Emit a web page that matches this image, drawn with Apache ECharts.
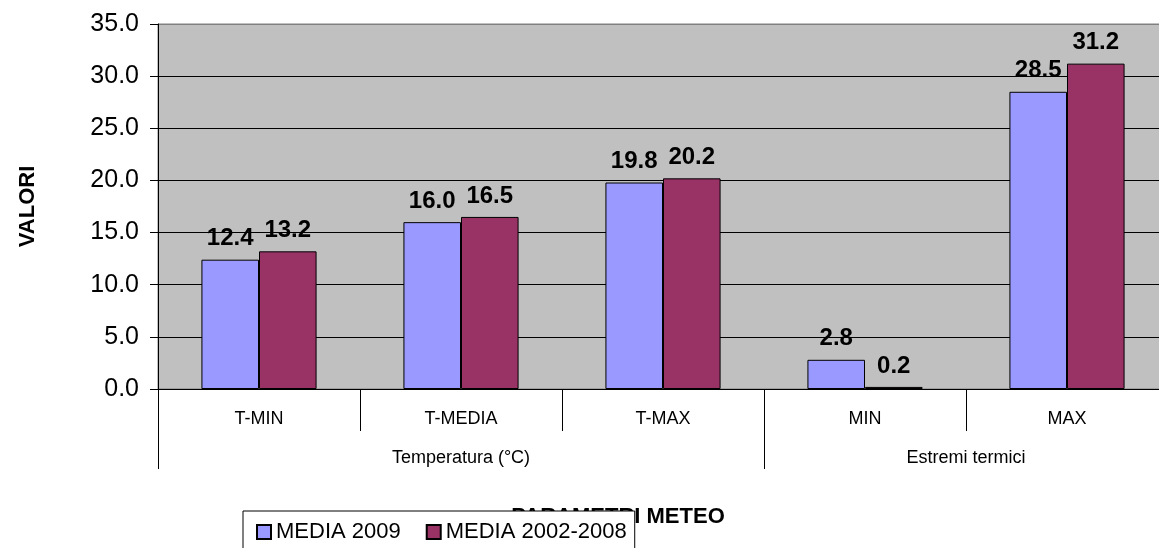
<!DOCTYPE html>
<html>
<head>
<meta charset="utf-8">
<script src="https://cdn.jsdelivr.net/npm/echarts@6/dist/echarts.min.js"></script>
<style>
html,body{margin:0;padding:0;background:#fff;}
#c{width:1159px;height:548px;}
</style>
</head>
<body>
<div id="c"></div>
<script>
const categories = ['T-MIN', 'T-MEDIA', 'T-MAX', 'MIN', 'MAX'];
const groupNames = ['Temperatura (°C)', 'Estremi termici'];
const groupCenters = [1.5, 4];      // in category units
const groupBounds = [0, 3, 5];
const media2009 = [12.4, 16.0, 19.8, 2.8, 28.5];
const media20022008 = [13.2, 16.5, 20.2, 0.2, 31.2];
const seriesNames = ['MEDIA 2009', 'MEDIA 2002-2008'];
const yTicks = [0, 5, 10, 15, 20, 25, 30, 35];

const FONT = '"Liberation Sans", Arial, sans-serif';
const chart = echarts.init(document.getElementById('c'), null, {renderer: 'canvas'});

const labelCfg = {
  show: true, position: 'top', distance: 9,
  fontFamily: FONT, fontWeight: 'bold', fontSize: 24, color: '#000',
  formatter: p => p.value.toFixed(1)
};

chart.setOption({
  animation: false,
  textStyle: {fontFamily: FONT},
  grid: {
    left: 158, top: 24, right: -9, bottom: 159,
    containLabel: false,
    outerBoundsMode: 'none',
    show: true, backgroundColor: '#C0C0C0', borderColor: '#808080', borderWidth: 1
  },
  legend: {
    data: seriesNames,
    left: 243, top: 511,
    padding: [10, 8, 30, 13],
    itemWidth: 14, itemHeight: 14, itemGap: 25,
    backgroundColor: '#fff', borderColor: '#000', borderWidth: 1,
    textStyle: {fontFamily: FONT, fontSize: 22, color: '#000'},
    icon: 'rect'
  },
  xAxis: [{
    type: 'category',
    data: categories,
    name: 'PARAMETRI METEO',
    nameLocation: 'middle',
    nameGap: 117,
    nameTextStyle: {fontFamily: FONT, fontWeight: 'bold', fontSize: 22, color: '#000', padding: [0, 90, 0, 0]},
    axisLine: {lineStyle: {color: '#000', width: 1}},
    axisTick: {show: true, length: 42, lineStyle: {color: '#000'}},
    axisLabel: {fontFamily: FONT, fontSize: 18, color: '#000', margin: 21},
    splitLine: {show: false}
  }, {
    type: 'value',
    position: 'bottom',
    min: 0, max: 5,
    axisLine: {show: false},
    splitLine: {show: false},
    axisTick: {show: true, length: 80, customValues: groupBounds, lineStyle: {color: '#000'}},
    axisLabel: {
      show: true, customValues: groupCenters, margin: 60,
      fontFamily: FONT, fontSize: 18, color: '#000',
      formatter: v => groupNames[groupCenters.indexOf(v)]
    }
  }],
  yAxis: {
    type: 'value',
    min: 0, max: 35, interval: 5,
    name: 'VALORI',
    nameLocation: 'middle',
    nameRotate: 90,
    nameGap: 119,
    nameTextStyle: {fontFamily: FONT, fontWeight: 'bold', fontSize: 22, color: '#000'},
    axisLine: {show: true, lineStyle: {color: '#000'}},
    axisTick: {show: true, length: 8, lineStyle: {color: '#000'}},
    axisLabel: {
      fontFamily: FONT, fontSize: 25, color: '#000', margin: 19,
      formatter: v => v.toFixed(1)
    },
    splitLine: {show: true, lineStyle: {color: yTicks.map((t, i) => i === yTicks.length - 1 ? '#808080' : '#000'), width: 1}}
  },
  series: [{
    name: seriesNames[0], type: 'bar', xAxisIndex: 0,
    data: media2009,
    barCategoryGap: '43%', barGap: '0%',
    itemStyle: {color: '#9999FF', borderColor: '#000', borderWidth: 1},
    label: labelCfg
  }, {
    name: seriesNames[1], type: 'bar', xAxisIndex: 0,
    data: media20022008,
    barCategoryGap: '43%', barGap: '0%',
    itemStyle: {color: '#993366', borderColor: '#000', borderWidth: 1},
    label: labelCfg
  }]
});
</script>
</body>
</html>
